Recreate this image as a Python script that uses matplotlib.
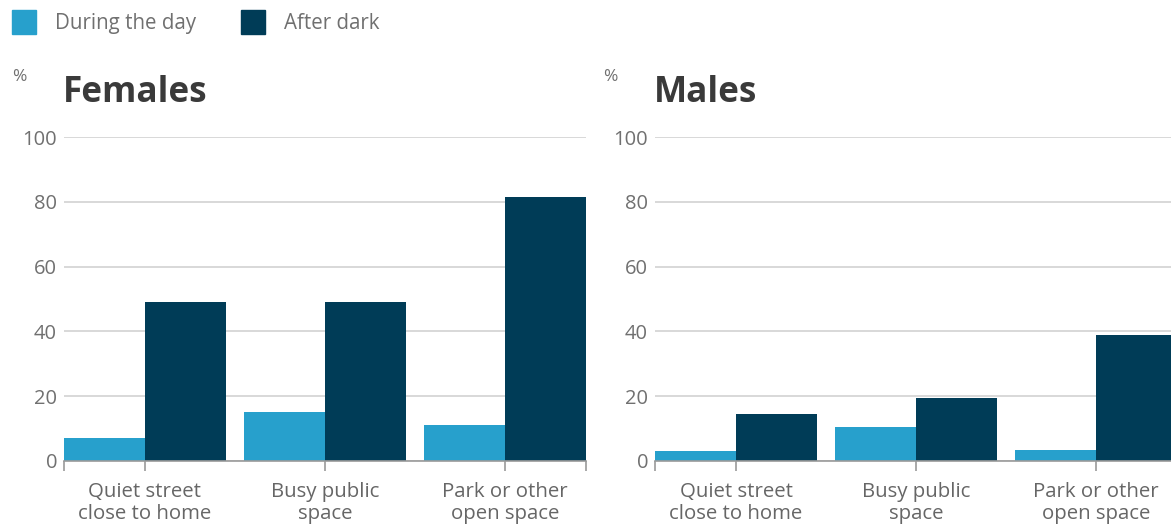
import numpy as np
import matplotlib
matplotlib.use("Agg")
import matplotlib.pyplot as plt
from matplotlib.patches import Patch

plt.rcParams['font.family'] = ['Open Sans', 'DejaVu Sans']

categories = ["Quiet street\nclose to home", "Busy public\nspace", "Park or other\nopen space"]
series_names = ["During the day", "After dark"]
females_day = [7, 15, 11]
females_dark = [49, 49, 81.5]
males_day = [3, 10.5, 3.5]
males_dark = [14.5, 19.5, 39]
panel_titles = ["Females", "Males"]
y_ticks = [0, 20, 40, 60, 80, 100]

DAY_COLOR = "#27a0cc"
DARK_COLOR = "#003c57"
TEXT_GREY = "#707070"
W, H = 1171, 525

fig = plt.figure(figsize=(W / 100, H / 100), dpi=100)

panels = [
    (64, females_day, females_dark, panel_titles[0]),
    (655, males_day, males_dark, panel_titles[1]),
]

bar_w = 0.45
x = np.arange(len(categories))

for left_px, day, dark, title in panels:
    ax = fig.add_axes([left_px / W, (H - 461) / H, 522 / W, (461 - 137) / H])
    ax.bar(x - bar_w / 2, day, width=bar_w, color=DAY_COLOR, zorder=3)
    ax.bar(x + bar_w / 2, dark, width=bar_w, color=DARK_COLOR, zorder=3)
    ax.set_xlim(-bar_w, len(categories) - 1 + bar_w)
    ax.set_ylim(0, 100)
    ax.set_yticks(y_ticks)
    ax.yaxis.grid(True, color="#d6d6d6", linewidth=1.3, zorder=0)
    ax.tick_params(axis="y", length=0, pad=5, labelsize=14.5, labelcolor=TEXT_GREY)
    for s in ["top", "right", "left"]:
        ax.spines[s].set_visible(False)
    ax.spines["bottom"].set_color("#9a9a9a")
    ax.spines["bottom"].set_linewidth(1.2)
    ax.spines["bottom"].set_zorder(4)
    ax.set_xticks(x)
    ax.set_xticklabels(categories, fontsize=14.7, color="#666666", linespacing=1.12)
    ax.set_xticks([-bar_w, len(categories) - 1 + bar_w], minor=True)
    ax.tick_params(axis="x", which="both", length=7, width=1.2, color="#9a9a9a", pad=8)
    fig.text((left_px - 52) / W, (H - 77) / H, "%", fontsize=12.5, color=TEXT_GREY, va="center")
    fig.text((left_px - 1) / W, (H - 93) / H, title, fontsize=25.3, fontweight="bold",
             color="#3a3a3a", va="center")

handles = [Patch(color=DAY_COLOR), Patch(color=DARK_COLOR)]
fig.legend(handles, series_names, loc="upper left", bbox_to_anchor=(12 / W, 1 - 10 / H),
           ncol=2, frameon=False, fontsize=14.8, labelcolor=TEXT_GREY,
           handlelength=1.18, handleheight=1.4, handletextpad=0.9, columnspacing=2.2,
           borderpad=0, borderaxespad=0)

fig.savefig("out.png", dpi=100)
